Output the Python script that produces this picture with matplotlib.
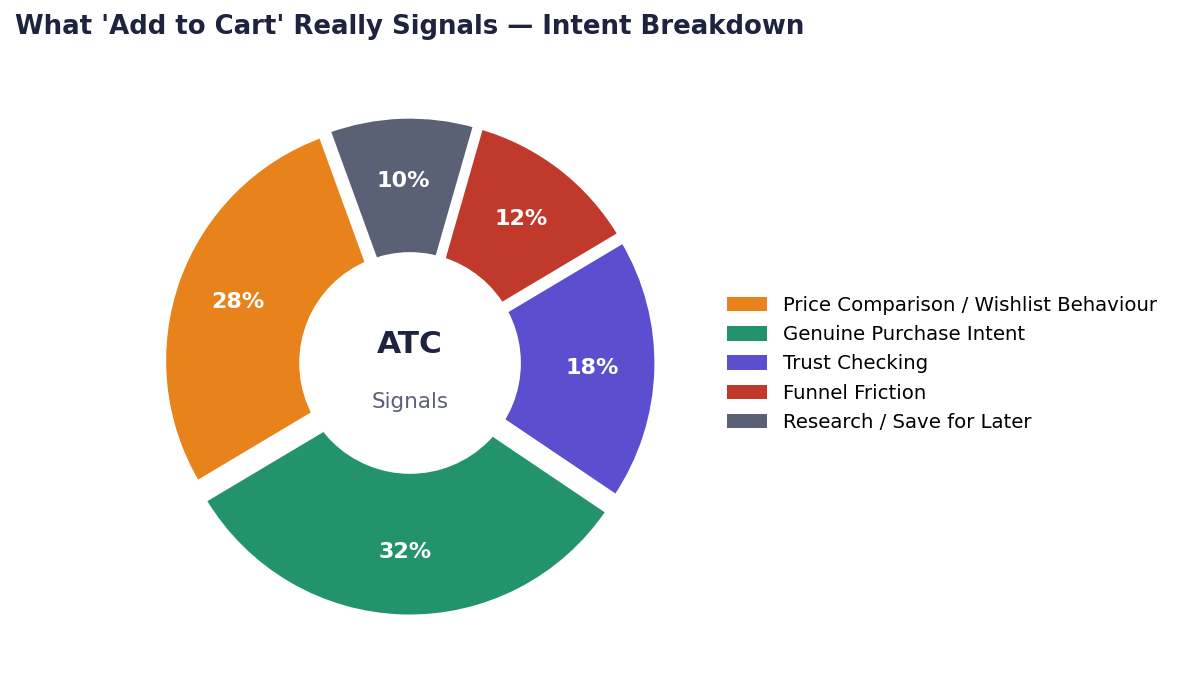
import matplotlib
matplotlib.use('Agg')
import matplotlib.pyplot as plt
from matplotlib.patches import Circle, Patch

categories = ['Price Comparison / Wishlist Behaviour', 'Genuine Purchase Intent',
              'Trust Checking', 'Funnel Friction', 'Research / Save for Later']
shares = [28, 32, 18, 12, 10]
colors = ['#E8821A', '#23936B', '#5B4FCF', '#C0392B', '#5A6075']
explode = [0.03, 0.06, 0.03, 0.03, 0.03]

fig = plt.figure(figsize=(11.8, 6.79), dpi=100)
ax = fig.add_axes([0.1035, 0.0414, 0.488, 0.848])

wedges, texts, autotexts = ax.pie(
    shares, colors=colors, explode=explode, startangle=110,
    autopct=lambda p: '%d%%' % round(p), pctdistance=0.73,
    wedgeprops=dict(edgecolor='white', linewidth=4),
    textprops=dict(color='white', fontsize=16, fontweight='bold'))

# white centre to make the donut
ax.add_patch(Circle((0, 0), 0.462, facecolor='white', edgecolor='none', zorder=3))

ax.set_xlim(-1.2, 1.2)
ax.set_ylim(-1.2, 1.2)
ax.set_aspect('equal')
ax.axis('off')

ax.text(0, 0.075, 'ATC', ha='center', va='center', fontsize=22.5,
        fontweight='bold', color='#1E2340', zorder=4)
ax.text(0, -0.162, 'Signals', ha='center', va='center', fontsize=15.5,
        color='#5A6075', zorder=4)

fig.text(0.013, 0.96, "What 'Add to Cart' Really Signals \u2014 Intent Breakdown",
         ha='left', va='center', fontsize=18.75, fontweight='bold', color='#1E2340')

handles = [Patch(facecolor=c, edgecolor='none') for c in colors]
fig.legend(handles, categories, loc='center left', bbox_to_anchor=(0.6014, 0.464),
           frameon=False, fontsize=14.2, labelspacing=0.52, handleheight=0.75)

fig.savefig('out.png', dpi=100)
